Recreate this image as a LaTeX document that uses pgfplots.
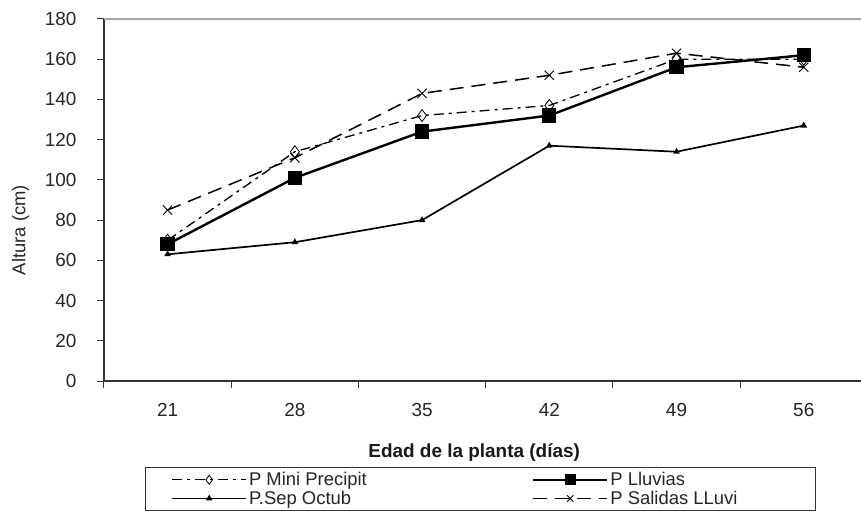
\documentclass[border=0pt]{standalone}
\usepackage{pgfplots}
\pgfplotsset{compat=1.18}
\usepackage{fontspec}
\setmainfont{Liberation Sans}
\begin{document}
\begin{tikzpicture}
\begin{axis}[
  scale only axis, width=757bp, height=362bp,
  xmin=-0.5, xmax=5.45, ymin=0, ymax=180,
  axis x line*=bottom, axis y line*=left,
  axis line style={line width=1.2bp, black!80},
  xtick={0,1,2,3,4,5},
  xticklabels={21,28,35,42,49,56},
  major x tick style={draw=none},
  minor xtick={-0.5,0.5,1.5,2.5,3.5,4.5},
  minor tick length=7bp,
  ytick={0,20,...,180},
  tick align=outside, major tick length=7bp,
  tick style={line width=1bp, black!80},
  /pgf/number format/assume math mode=true,
  ticklabel style={font=\fontsize{19}{21}\selectfont, text=black!85},
  xticklabel style={yshift=-12bp},
  yticklabel style={xshift=-17bp},
  xlabel={\textbf{Edad de la planta (días)}},
  xlabel style={at={(axis description cs:0.489,-0.197)}, anchor=center, font=\fontsize{19}{21}\selectfont, text=black!90},
  ylabel={Altura (cm)},
  ylabel style={at={(axis description cs:-0.11,0.417)}, anchor=center, font=\fontsize{18.5}{20}\selectfont, text=black!85},
  legend columns=2,
  legend style={at={(axis description cs:0.054,-0.237)}, anchor=north west,
    draw=black!80, line width=1bp, font=\fontsize{18.5}{20}\selectfont,
    inner ysep=3bp, row sep=0bp, text=black!85},
  legend cell align=left,
  legend image code/.code={
    \path (0bp,0bp);
    \draw[mark repeat=2,mark phase=2]
      plot coordinates {(23bp,0bp)(60bp,0bp)(97bp,0bp)};
  },
]
\addplot[black, line width=1.3bp, dash pattern=on 10bp off 5bp on 3bp off 5bp,
  mark=diamond, mark size=6bp, mark options={solid, fill=white, line width=0.8bp},
  legend image post style={mark size=4.5bp}]
  coordinates {(0,70) (1,114) (2,132) (3,137) (4,160) (5,160)};
\addlegendentry{\makebox[258bp][l]{P Mini Precipit}}
\addplot[black, line width=2.4bp, mark=square*, mark size=6bp, mark options={solid},
  legend image post style={mark size=4.5bp}]
  coordinates {(0,68) (1,101) (2,124) (3,132) (4,156) (5,162)};
\addlegendentry{\makebox[200bp][l]{P Lluvias}}
\addplot[black, line width=1.7bp, mark=triangle*, mark size=2.2bp, mark options={solid}]
  coordinates {(0,63) (1,69) (2,80) (3,117) (4,114) (5,127)};
\addlegendentry{P.Sep Octub}
\addplot[black, line width=1.5bp, dash pattern=on 14bp off 8bp,
  mark=x, mark size=6.5bp, mark options={solid, line width=0.9bp},
  legend image post style={mark size=4.5bp}]
  coordinates {(0,85) (1,111) (2,143) (3,152) (4,163) (5,156)};
\addlegendentry{P Salidas LLuvi}
\draw[black!35, line width=1.2bp] (rel axis cs:0,1) -- (rel axis cs:1,1);
\end{axis}
\pgfresetboundingbox
\path[use as bounding box] (-104bp,-131bp) rectangle (757bp,381bp);
\end{tikzpicture}
\end{document}
